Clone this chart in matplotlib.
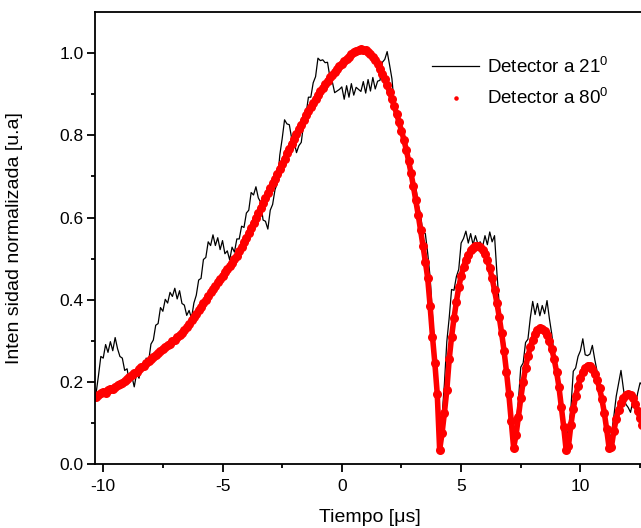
import numpy as np
import matplotlib
matplotlib.use("Agg")
import matplotlib.pyplot as plt

plt.rcParams["font.family"] = ["Liberation Sans", "DejaVu Sans"]
plt.rcParams["mathtext.fontset"] = "custom"
plt.rcParams["mathtext.rm"] = "Liberation Sans"
plt.rcParams["axes.unicode_minus"] = False

# sampling of both traces, in microseconds
t_start = -10.3
t_step = 0.1

# detector at 80 deg (red dots), one row per microsecond
det80 = [
    0.163, 0.168, 0.172, 0.176, 0.174, 0.181, 0.184, 0.183, 0.188, 0.192,
    0.195, 0.198, 0.203, 0.207, 0.212, 0.216, 0.221, 0.225, 0.231, 0.236,
    0.240, 0.246, 0.250, 0.256, 0.261, 0.266, 0.270, 0.275, 0.281, 0.286,
    0.290, 0.293, 0.299, 0.303, 0.310, 0.314, 0.320, 0.327, 0.333, 0.340,
    0.350, 0.358, 0.366, 0.375, 0.383, 0.391, 0.400, 0.409, 0.418, 0.426,
    0.434, 0.443, 0.451, 0.459, 0.467, 0.474, 0.482, 0.490, 0.498, 0.506,
    0.518, 0.529, 0.540, 0.551, 0.563, 0.575, 0.587, 0.599, 0.611, 0.623,
    0.635, 0.647, 0.659, 0.671, 0.683, 0.695, 0.707, 0.719, 0.731, 0.743,
    0.756, 0.768, 0.780, 0.792, 0.804, 0.815, 0.826, 0.838, 0.849, 0.859,
    0.869, 0.879, 0.889, 0.898, 0.907, 0.916, 0.925, 0.933, 0.941, 0.948,
    0.955, 0.962, 0.968, 0.974, 0.980, 0.986, 0.992, 0.997, 1.002, 1.006,
    1.008, 1.010, 1.009, 1.007, 1.003, 0.998, 0.991, 0.983, 0.973, 0.962,
    0.950, 0.937, 0.922, 0.906, 0.889, 0.871, 0.852, 0.832, 0.811, 0.790,
    0.765, 0.738, 0.708, 0.676, 0.642, 0.607, 0.570, 0.532, 0.493, 0.452,
    0.385, 0.310, 0.245, 0.170, 0.035, 0.075, 0.125, 0.180, 0.255, 0.310,
    0.355, 0.395, 0.430, 0.458, 0.480, 0.497, 0.510, 0.520, 0.527, 0.531,
    0.532, 0.529, 0.522, 0.512, 0.497, 0.477, 0.452, 0.423, 0.392, 0.357,
    0.318, 0.275, 0.225, 0.170, 0.105, 0.040, 0.070, 0.115, 0.160, 0.200,
    0.235, 0.262, 0.285, 0.303, 0.317, 0.326, 0.331, 0.330, 0.325, 0.314,
    0.300, 0.280, 0.255, 0.225, 0.188, 0.140, 0.090, 0.035, 0.045, 0.095,
    0.135, 0.165, 0.190, 0.210, 0.225, 0.235, 0.240, 0.238, 0.232, 0.220,
    0.205, 0.185, 0.158, 0.125, 0.085, 0.040, 0.042, 0.080, 0.110, 0.132,
    0.148, 0.160, 0.167, 0.170, 0.168, 0.160, 0.147, 0.130, 0.112, 0.095,
]

# detector at 21 deg (black line)
det21 = [
    0.172, 0.215, 0.262, 0.258, 0.291, 0.272, 0.298, 0.276, 0.308, 0.281,
    0.262, 0.258, 0.228, 0.232, 0.198, 0.214, 0.188, 0.221, 0.209, 0.238,
    0.228, 0.258, 0.249, 0.292, 0.302, 0.338, 0.342, 0.381, 0.372, 0.401,
    0.392, 0.418, 0.408, 0.428, 0.402, 0.422, 0.391, 0.387, 0.362, 0.374,
    0.355, 0.392, 0.411, 0.448, 0.452, 0.498, 0.503, 0.541, 0.532, 0.558,
    0.532, 0.551, 0.522, 0.544, 0.512, 0.519, 0.497, 0.528, 0.516, 0.548,
    0.548, 0.579, 0.576, 0.611, 0.618, 0.661, 0.655, 0.675, 0.648, 0.637,
    0.594, 0.591, 0.572, 0.618, 0.632, 0.668, 0.684, 0.752, 0.792, 0.838,
    0.828, 0.826, 0.792, 0.786, 0.758, 0.775, 0.783, 0.829, 0.852, 0.893,
    0.893, 0.928, 0.943, 0.988, 0.982, 0.984, 0.977, 0.978, 0.942, 0.931,
    0.904, 0.908, 0.912, 0.918, 0.888, 0.921, 0.893, 0.926, 0.898, 0.917,
    0.912, 0.907, 0.931, 0.903, 0.936, 0.908, 0.941, 0.913, 0.932, 0.934,
    0.978, 0.985, 1.004, 0.972, 0.938, 0.872, 0.858, 0.832, 0.821, 0.783,
    0.776, 0.733, 0.717, 0.682, 0.676, 0.632, 0.607, 0.562, 0.561, 0.513,
    0.455, 0.362, 0.276, 0.152, 0.068, 0.115, 0.196, 0.298, 0.356, 0.425,
    0.423, 0.456, 0.474, 0.538, 0.549, 0.567, 0.538, 0.561, 0.534, 0.556,
    0.536, 0.541, 0.529, 0.556, 0.534, 0.565, 0.541, 0.556, 0.465, 0.386,
    0.325, 0.306, 0.244, 0.186, 0.104, 0.062, 0.094, 0.154, 0.236, 0.246,
    0.296, 0.304, 0.356, 0.396, 0.364, 0.391, 0.361, 0.386, 0.366, 0.398,
    0.354, 0.316, 0.265, 0.226, 0.195, 0.155, 0.096, 0.062, 0.085, 0.135,
    0.226, 0.234, 0.262, 0.276, 0.305, 0.266, 0.264, 0.268, 0.289, 0.255,
    0.225, 0.196, 0.184, 0.126, 0.094, 0.058, 0.074, 0.116, 0.165, 0.196,
    0.228, 0.184, 0.146, 0.138, 0.126, 0.154, 0.141, 0.173, 0.198, 0.192,
]

t = t_start + t_step * np.arange(len(det80))

fig = plt.figure(figsize=(6.41, 5.28), dpi=100)
ax = fig.add_axes([0.148, 0.121, 0.858, 0.856])

line21, = ax.plot(t, det21, "-", color="black", lw=0.9, label="Detector a 21$^{0}$")
ax.plot(t, det80, "-", color="red", lw=4.0)
dots80, = ax.plot(t, det80, "o", color="red", ms=6.5, mew=0, label="Detector a 80$^{0}$")

ax.set_xlim(-10.35, 12.7)
ax.set_ylim(0, 1.1)
ax.set_xticks([-10, -5, 0, 5, 10])
ax.set_xticks([-7.5, -2.5, 2.5, 7.5, 12.5], minor=True)
ax.set_yticks([0.0, 0.2, 0.4, 0.6, 0.8, 1.0])
ax.set_yticks([0.1, 0.3, 0.5, 0.7, 0.9], minor=True)
ax.set_yticklabels(["0.0", "0.2", "0.4", "0.6", "0.8", "1.0"])

for s in ax.spines.values():
    s.set_linewidth(1.3)
ax.spines["right"].set_visible(False)
ax.tick_params(which="both", direction="out", width=1.3, labelsize=12.5,
               top=False, right=False)
ax.tick_params(which="major", length=6)
ax.tick_params(axis="x", which="major", pad=5)
ax.tick_params(axis="y", which="major", pad=2)
ax.tick_params(which="minor", length=3)

ax.set_xlabel("Tiempo [μs]", fontsize=14)
ax.set_ylabel("Inten sidad normalizada [u.a]", fontsize=14)
ax.xaxis.set_label_coords(0.5, -0.1)
ax.yaxis.set_label_coords(-0.13, 0.5)

ax.legend(handles=[line21, dots80], loc="upper left",
          bbox_to_anchor=(0.6, 0.92), frameon=False, fontsize=13.5,
          handlelength=2.5, handletextpad=0.4, labelspacing=0.58,
          markerscale=0.5, borderaxespad=0)

fig.savefig("out.png", dpi=100)
